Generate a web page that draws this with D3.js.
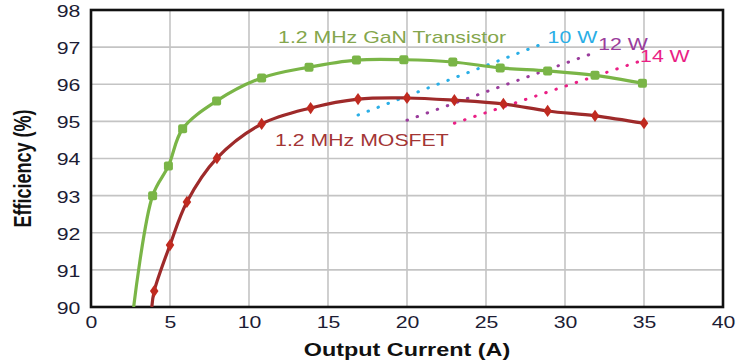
<!DOCTYPE html>
<html lang="en">
<head>
    <meta charset="UTF-8">
    <title>Efficiency vs Output Current</title>
    <script src="https://d3js.org/d3.v7.min.js"></script>
    <style>
        body { margin: 0; background: #fff; }
        text { font-family: "Liberation Sans", Arial, sans-serif; }
        .grid line { stroke: #c4c4c4; stroke-width: 1.6; }
        .axis text { font-size: 16px; fill: #1c1c34; }
        .axis path, .axis line { display: none; }
    </style>
</head>
<body>
<div id="chart"></div>
<script>
    // Data (first point of each curve = where it leaves the 90 % floor, no marker)
    const ganCurrent = [2.7, 3.9, 4.9, 5.8, 7.95, 10.8, 13.8, 16.8, 19.8, 22.9, 25.9, 28.9, 31.9, 34.9];
    const ganEff     = [90.0, 93.0, 93.8, 94.8, 95.55, 96.17, 96.46, 96.65, 96.66, 96.6, 96.44, 96.36, 96.24, 96.03];
    const mosCurrent = [3.85, 4.0, 5.0, 6.07, 7.97, 10.8, 13.9, 16.9, 20.0, 23.0, 26.1, 28.9, 31.9, 35.0];
    const mosEff     = [90.0, 90.43, 91.67, 92.83, 94.01, 94.93, 95.36, 95.6, 95.63, 95.57, 95.47, 95.28, 95.15, 94.95];

    // constant-loss reference lines (start / end)
    const lossNames   = ["10 W", "12 W", "14 W"];
    const lossCurrent = [[16.9, 28.7], [20.0, 32.0], [23.0, 34.6]];
    const lossEff     = [[95.17, 97.11], [95.03, 96.87], [94.95, 96.6]];

    const xTicks = [0, 5, 10, 15, 20, 25, 30, 35, 40];
    const yTicks = [90, 91, 92, 93, 94, 95, 96, 97, 98];

    // layout
    const W = 737, H = 364;
    const margin = { top: 10, right: 14, bottom: 57, left: 91 };
    const width = W - margin.left - margin.right;
    const height = H - margin.top - margin.bottom;
    const SX = 1.33; // the original is stretched horizontally

    const svg = d3.select("#chart").append("svg")
        .attr("width", W).attr("height", H);
    const g = svg.append("g").attr("transform", `translate(${margin.left},${margin.top})`);

    const x = d3.scaleLinear().domain([0, 40]).range([0, width]);
    const y = d3.scaleLinear().domain([90, 98]).range([height, 0]);

    // grid
    const grid = g.append("g").attr("class", "grid");
    grid.selectAll(".v").data(xTicks.slice(1, -1)).enter().append("line")
        .attr("x1", d => x(d)).attr("x2", d => x(d)).attr("y1", 0).attr("y2", height);
    grid.selectAll(".h").data(yTicks.slice(1, -1)).enter().append("line")
        .attr("y1", d => y(d)).attr("y2", d => y(d)).attr("x1", 0).attr("x2", width);

    // axes (labels only)
    const xAxis = g.append("g").attr("class", "axis")
        .attr("transform", `translate(0,${height})`)
        .call(d3.axisBottom(x).tickValues(xTicks).tickSize(0).tickPadding(10));
    xAxis.selectAll("text").attr("transform", `scale(${SX},1)`);

    const yAxis = g.append("g").attr("class", "axis")
        .call(d3.axisLeft(y).tickValues(yTicks).tickSize(0).tickPadding(8));
    yAxis.selectAll("text").attr("transform", `scale(${SX},1)`).attr("dy", "0.4em");

    // frame
    g.append("rect").attr("width", width).attr("height", height)
        .attr("fill", "none").attr("stroke", "#111").attr("stroke-width", 2.6);

    // clip
    svg.append("clipPath").attr("id", "clip").append("rect")
        .attr("width", width).attr("height", height);
    const plot = g.append("g").attr("clip-path", "url(#clip)");

    const line = d3.line().x(d => x(d[0])).y(d => y(d[1])).curve(d3.curveCatmullRom.alpha(0.5));

    // dotted loss lines
    const lossColors = ["#2aaee6", "#9a3d9c", "#ea1f85"];
    lossNames.forEach((n, i) => {
        plot.append("path")
            .datum(d3.zip(lossCurrent[i], lossEff[i]))
            .attr("d", d3.line().x(d => x(d[0])).y(d => y(d[1])))
            .attr("fill", "none")
            .attr("stroke", lossColors[i])
            .attr("stroke-width", 3)
            .attr("stroke-linecap", "round")
            .attr("stroke-dasharray", "0.5 10.2");
    });

    const gan = d3.zip(ganCurrent, ganEff);
    const mos = d3.zip(mosCurrent, mosEff);

    plot.append("path").datum(gan).attr("d", line)
        .attr("fill", "none").attr("stroke", "#7ab547").attr("stroke-width", 3.2);
    plot.append("path").datum(mos).attr("d", line)
        .attr("fill", "none").attr("stroke", "#9e2a2a").attr("stroke-width", 3.2);

    plot.selectAll(".gm").data(gan.slice(1)).enter().append("rect")
        .attr("x", d => x(d[0]) - 4.5).attr("y", d => y(d[1]) - 4.5)
        .attr("width", 9).attr("height", 9).attr("rx", 2)
        .attr("fill", "#7ab547");
    plot.selectAll(".mm").data(mos.slice(1)).enter().append("path")
        .attr("d", d3.symbol(d3.symbolDiamond, 48))
        .attr("transform", d => `translate(${x(d[0])},${y(d[1])}) scale(1.15,0.95)`)
        .attr("fill", "#c02a20");

    // in-plot labels: [text, x value, y value, colour]
    const labels = [
        ["1.2 MHz GaN Transistor", 11.84, 97.11, "#84a64c"],
        ["1.2 MHz MOSFET", 11.65, 94.33, "#a33535"],
        ["10 W", 28.9, 97.11, lossColors[0]],
        ["12 W", 32.1, 96.92, lossColors[1]],
        ["14 W", 34.75, 96.6, lossColors[2]]
    ];
    labels.forEach(l => {
        g.append("text")
            .attr("transform", `translate(${x(l[1])},${y(l[2])}) scale(${SX},1)`)
            .attr("font-size", 16)
            .attr("fill", l[3])
            .text(l[0]);
    });

    // axis titles
    svg.append("text")
        .attr("transform", `translate(${margin.left + x(20)},356) scale(1.3,1)`)
        .attr("text-anchor", "middle")
        .attr("font-size", 18).attr("font-weight", "bold").attr("fill", "#111")
        .text("Output Current (A)");
    svg.append("text")
        .attr("transform", `translate(31,${margin.top + y(94) + 10}) scale(1.3,1) rotate(-90)`)
        .attr("text-anchor", "middle")
        .attr("font-size", 18).attr("font-weight", "bold").attr("fill", "#111")
        .text("Efficiency (%)");
</script>
</body>
</html>
